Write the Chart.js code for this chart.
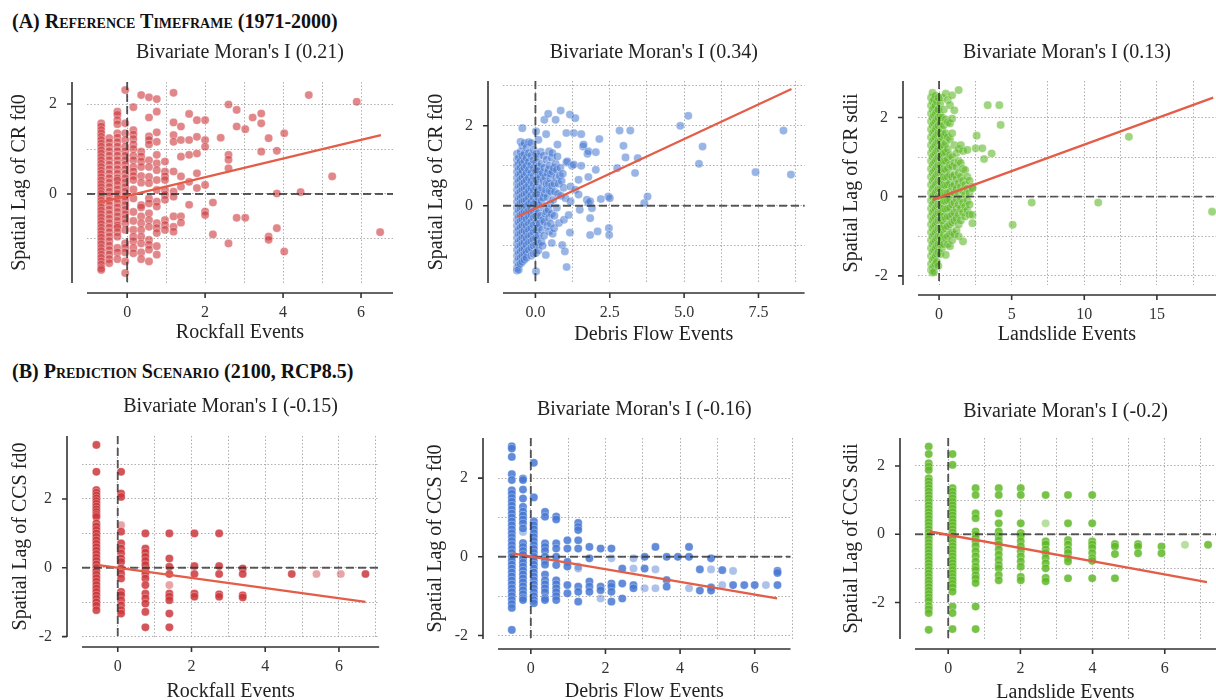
<!DOCTYPE html>
<html>
<head>
<meta charset="utf-8">
<script src="https://cdn.jsdelivr.net/npm/chart.js@4.4.1/dist/chart.umd.min.js"></script>
<style>
  html, body { margin: 0; padding: 0; background: #fff; width: 1216px; height: 700px; overflow: hidden; }
  .hdr { position: absolute; left: 12px; font: bold 20px "Liberation Serif", "Times New Roman", serif;
         font-variant: small-caps; line-height: 22px; color: #111; white-space: nowrap; }
  .panel { position: absolute; }
</style>
</head>
<body>
<div class="hdr" style="top:10px">(A) Reference Timeframe (1971-2000)</div>
<div class="hdr" style="top:360px">(B) Prediction Scenario (2100, RCP8.5)</div>

<script>
/* ============================================================
   Bivariate Moran's I scatter panels (event counts vs spatial lag)
   Values. Points: [x, [y, y, ...]] per column.
   ============================================================ */

/* ── (A) Reference timeframe ── */
var rockfallRef = [
  [-0.665, [1.57,1.5,1.42,1.35,1.27,1.2,1.12,1.05,0.97,0.9,0.82,0.75,0.67,0.6,0.52,0.45,0.37,0.3,0.22,0.15,0.07,0,-0.07,-0.15,-0.22,-0.3,-0.37,-0.45,-0.52,-0.6,-0.67,-0.75,-0.82,-0.9,-0.97,-1.05,-1.12,-1.2,-1.27,-1.35,-1.42,-1.5,-1.57,-1.65,-1.69]],
  [-0.46, [1.24,1.15,1.05,0.95,0.85,0.75,0.65,0.55,0.45,0.35,0.25,0.15,0.05,-0.05,-0.15,-0.25,-0.35,-0.45,-0.55,-0.65,-0.75,-0.85,-0.95,-1.05,-1.15,-1.25,-1.35,-1.45,-1.54]],
  [-0.25, [1.83,1.76,1.64,1.55,1.35,1.25,1.15,1.05,0.95,0.85,0.75,0.65,0.55,0.45,0.35,0.3,0.2,0.1,0,-0.1,-0.2,-0.3,-0.4,-0.5,-0.6,-0.7,-0.75,-0.85,-0.95,-1.2,-1.3,-1.45]],
  [-0.05, [2.31,1.57,1.35,1.2,1.05,0.95,0.85,0.75,0.65,0.55,0.45,0.35,0.25,0.15,0.05,-0.05,-0.15,-0.25,-0.35,-0.45,-0.55,-0.65,-0.8,-1.1,-1.2,-1.3,-1.5,-1.76]],
  [0.16, [1.93,1.42,1.32,1.22,1.1,1.0,0.85,0.75,0.6,0.5,0.4,0.31,0.1,-0.1,-0.4,-0.6,-0.8,-0.95,-1.05,-1.2,-1.32]],
  [0.36, [2.2,0.94,0.83,0.72,0.6,0.4,0.25,-0.25,-0.3,-0.5,-0.65,-0.8,-0.95,-1.1,-1.3,-1.45]],
  [0.56, [2.15,1.7,1.28,1.2,1.1,0.75,0.6,0.38,0.24,-0.1,-0.21,-0.43,-0.58,-0.73,-1.02,-1.13,-1.24,-1.5]],
  [0.76, [2.11,1.83,1.37,1.16,0.87,0.68,0.53,0.31,0.09,-0.17,-0.28,-0.65,-0.76,-0.87,-1.16,-1.35]],
  [0.97, [0.72,0.5,0.39,0.31,0.09,-0.02,-0.13,-0.58,-0.69,-0.8]],
  [1.19, [2.25,1.59,1.31,1.16,0.5,0.05,-0.06,-0.5,-0.73,-0.84]],
  [1.38, [1.5,1.2,0.83,0.39,0.16,-0.5,-0.64]],
  [1.59, [1.78,1.2,0.87,0.27,-0.24]],
  [1.79, [1.64,1.27,0.9,0.46,0.13]],
  [2.0, [1.64,1.2,1.05,0.2,-0.39,-0.47]],
  [2.2, [-0.19,-0.9]],
  [2.4, [1.25]],
  [2.6, [1.99,0.87,0.76,0.57,-1.1]],
  [2.81, [1.87,1.5,-0.53]],
  [3.03, [1.44,-0.53]],
  [3.22, [1.7]],
  [3.44, [1.79,1.57,0.94]],
  [3.63, [1.24,-0.95,-1.02]],
  [3.84, [0.96,0.01,-0.76]],
  [4.03, [1.35,-1.28]],
  [4.45, [0.04]],
  [4.66, [2.2]],
  [5.26, [0.39]],
  [5.89, [2.05]],
  [6.49, [-0.85]]
];
var rockfallRefTrend = [[-0.72, -0.19], [6.51, 1.31]];

var debrisRef = [
  [-0.62, [1.3,1.15,1.0,0.85,0.7,0.55,0.4,0.25,0.1,-0.05,-0.2,-0.35,-0.5,-0.65,-0.8,-0.95,-1.1,-1.25,-1.4,-1.55,-1.62]],
  [-0.56, [1.2,1.05,0.92,0.78,0.62,0.48,0.32,0.18,0.02,-0.12,-0.28,-0.42,-0.58,-0.72,-0.88,-1.02,-1.18,-1.32,-1.48,-1.6]],
  [-0.5, [1.6,1.35,1.12,0.95,0.8,0.66,0.5,0.35,0.2,0.06,-0.08,-0.24,-0.38,-0.54,-0.7,-0.85,-1.0,-1.15,-1.3,-1.45]],
  [-0.44, [1.94,1.5,1.25,1.05,0.88,0.7,0.55,0.4,0.24,0.1,-0.04,-0.2,-0.34,-0.5,-0.66,-0.8,-0.95,-1.1,-1.25,-1.4]],
  [-0.37, [1.57,1.3,1.12,0.95,0.75,0.58,0.42,0.28,0.12,-0.02,-0.16,-0.3,-0.46,-0.62,-0.78,-0.92,-1.08,-1.22,-1.35]],
  [-0.3, [1.45,1.2,1.0,0.82,0.64,0.46,0.3,0.14,-0.02,-0.18,-0.34,-0.5,-0.66,-0.82,-0.98,-1.15,-1.3]],
  [-0.22, [1.59,1.32,1.1,0.9,0.7,0.52,0.36,0.2,0.04,-0.12,-0.28,-0.44,-0.6,-0.76,-0.92,-1.1]],
  [-0.14, [1.57,1.25,1.02,0.82,0.62,0.44,0.26,0.1,-0.06,-0.22,-0.4,-0.56,-0.74,-0.9,-1.05,-1.25]],
  [-0.06, [1.4,1.15,0.94,0.74,0.55,0.38,0.2,0.04,-0.14,-0.3,-0.48,-0.66,-0.84,-1.0,-1.2]],
  [0.02, [1.86,1.3,1.08,0.86,0.66,0.46,0.28,0.1,-0.08,-0.26,-0.44,-0.62,-0.8,-0.98,-1.18,-1.64]],
  [0.1, [1.65,1.22,0.98,0.78,0.58,0.4,0.2,0.02,-0.18,-0.36,-0.55,-0.74,-0.95,-1.12]],
  [0.14, [0.88,-0.45]], [0.15, [0.3]], [0.17, [0.72]], [0.18, [1.35,-0.25]],
  [0.2, [1.05,0.12,-0.9]], [0.22, [0.45,-0.6]], [0.24, [-1.0]], [0.25, [0.82]], [0.26, [0.2,-0.35]],
  [0.27, [0.62]], [0.28, [1.25,-0.05]], [0.29, [-0.75]], [0.3, [2.15,0.95,-0.4]], [0.31, [0.3]],
  [0.33, [0.72]], [0.34, [-0.2]], [0.35, [0.4,-1.23]], [0.36, [1.79]], [0.37, [0.55]],
  [0.38, [1.15,-0.15]], [0.4, [0.82,0.22,-0.5]], [0.43, [2.3]], [0.44, [0.9,-0.1]], [0.45, [0.55]],
  [0.46, [1.36,-0.3,-0.64]], [0.47, [0.38]], [0.48, [1.0]], [0.5, [0.68,0.05]], [0.52, [0.8,-0.45]],
  [0.53, [0.35]], [0.55, [1.2,-0.2,-0.93]], [0.56, [0.5]], [0.57, [1.32]], [0.58, [0.85,-0.7]],
  [0.6, [0.15]], [0.62, [0.95]], [0.63, [-0.56]], [0.64, [0.55,-0.25]], [0.66, [0.35]],
  [0.68, [2.15,1.05]], [0.7, [0.7]], [0.72, [0.9,-0.05]], [0.74, [1.23,1.53]], [0.76, [0.3]],
  [0.78, [0.55]], [0.79, [-0.43]], [0.82, [0.75]], [0.84, [0.95]], [0.85, [2.38]], [0.86, [0.25]],
  [0.88, [0.62]], [0.9, [-0.98]], [0.92, [0.8]], [0.95, [0.45]], [0.96, [-0.35]], [0.99, [-1.14]],
  [1.01, [0.19]], [1.04, [1.82,1.08]], [1.05, [-1.53]], [1.07, [1.11]], [1.12, [-0.23]],
  [1.16, [2.28,-0.67]], [1.18, [0.48,0.11]], [1.23, [1.0]], [1.29, [1.82,1.03]], [1.34, [2.19,0.4]],
  [1.45, [0.65,0.28]], [1.49, [-0.1]], [1.54, [1.79,1.0]], [1.6, [1.48]], [1.62, [1.53]],
  [1.73, [0.15]], [1.75, [1.3]], [1.78, [1.36,0.72,0.07]], [1.84, [-0.31,-0.73,0.11]], [1.9, [-0.06]],
  [2.03, [1.34,0.9]], [2.09, [-0.64]], [2.15, [1.67]], [2.2, [0.17]], [2.45, [0.23]],
  [2.47, [-0.56]], [2.48, [-0.73]], [2.5, [0.19]], [2.75, [0.94]], [2.83, [1.88]], [2.96, [1.5]],
  [3.03, [1.21]], [3.19, [1.88]], [3.35, [0.82]], [3.44, [1.19]], [3.66, [0.07]], [3.77, [0.23]],
  [4.87, [2.0]], [5.14, [2.25]], [5.5, [1.05]], [5.62, [1.48]], [7.4, [0.84]], [8.34, [1.88]], [8.59, [0.78]]
];
var debrisRefTrend = [[-0.62, -0.28], [8.61, 2.92]];

var landslideRef = [
  [-0.55, [2.5,2.3,2.1,1.9,1.7,1.5,1.3,1.1,0.9,0.7,0.5,0.3,0.1,-0.1,-0.3,-0.5,-0.7,-0.9,-1.1,-1.3,-1.5,-1.7,-1.85]],
  [-0.45, [2.62,2.4,2.2,2.0,1.8,1.6,1.4,1.2,1.0,0.8,0.6,0.4,0.2,0.0,-0.2,-0.4,-0.6,-0.8,-1.0,-1.2,-1.4,-1.6,-1.8,-1.92]],
  [-0.35, [2.45,2.25,2.05,1.85,1.65,1.45,1.25,1.05,0.85,0.65,0.45,0.25,0.05,-0.15,-0.35,-0.55,-0.75,-0.95,-1.15,-1.35,-1.55,-1.75,-1.9]],
  [-0.25, [2.55,2.3,2.1,1.9,1.7,1.5,1.3,1.1,0.9,0.7,0.5,0.3,0.1,-0.1,-0.3,-0.5,-0.7,-0.9,-1.1,-1.3,-1.5,-1.7]],
  [-0.15, [2.4,2.15,1.95,1.75,1.55,1.35,1.15,0.95,0.75,0.55,0.35,0.15,-0.05,-0.25,-0.45,-0.65,-0.85,-1.05,-1.25,-1.45,-1.65]],
  [-0.05, [2.5,2.2,2.0,1.8,1.6,1.4,1.2,1.0,0.8,0.6,0.4,0.2,0.0,-0.2,-0.4,-0.6,-0.8,-1.0,-1.2,-1.4,-1.75]],
  [0.08, [2.35,2.05,1.85,1.6,1.4,1.2,1.0,0.8,0.6,0.4,0.2,0.0,-0.2,-0.4,-0.6,-0.8,-1.0,-1.2,-1.45]],
  [0.2, [2.5,2.0,1.7,1.5,1.25,1.05,0.85,0.62,0.42,0.22,0.02,-0.18,-0.38,-0.6,-0.82,-1.05,-1.3]],
  [0.33, [2.2,1.8,1.55,1.3,1.1,0.9,0.7,0.5,0.3,0.1,-0.1,-0.3,-0.5,-0.72,-0.95,-1.2]],
  [0.46, [2.6,1.95,1.6,1.35,1.12,0.9,0.68,0.48,0.28,0.08,-0.12,-0.32,-0.55,-0.8,-1.05,-1.47]],
  [0.6, [2.44,1.88,1.5,1.2,0.95,0.72,0.5,0.3,0.1,-0.1,-0.3,-0.5,-0.75,-1.0,-1.2]],
  [0.75, [2.31,1.85,1.45,1.05,0.8,0.55,0.35,0.12,-0.08,-0.28,-0.5,-0.7,-0.95,-1.25]],
  [0.9, [2.56,1.97,1.6,1.0,0.75,0.5,0.25,0.05,-0.2,-0.45,-0.65,-0.9,-1.1]],
  [1.05, [2.18,1.3,0.85,0.55,0.3,0.1,-0.15,-0.4,-0.6,-0.95]],
  [1.2, [1.1,0.75,0.45,0.2,-0.05,-0.3,-0.55,-0.85]],
  [1.35, [2.69,1.2,0.9,0.6,0.35,0.1,-0.2,-0.45,-0.7,-1.0]],
  [1.5, [1.3,0.85,0.5,0.25,-0.05,-0.3,-0.6]],
  [1.65, [1.15,0.7,0.4,0.15,-0.15,-0.4,-1.13]],
  [1.8, [0.67,0.3,0.05,-0.25,-0.5]],
  [1.95, [1.18,0.5,0.2,-0.1,-0.35]],
  [2.1, [0.4,0.1,-0.2,-0.45]],
  [2.3, [0.25,0.21,-0.46,-0.67]],
  [2.52, [1.22]], [2.59, [1.54]], [2.98, [1.22]], [3.1, [0.95]], [3.35, [2.31]], [3.62, [1.09]],
  [4.15, [2.31]], [4.24, [1.81]], [5.07, [-0.71]], [6.38, [-0.15]], [10.96, [-0.15]], [13.07, [1.51]], [18.8, [-0.38]]
];
var landslideRefTrend = [[-0.44, -0.08], [18.88, 2.5]];

/* ── (B) Prediction scenario ── */
var rockfallFut = [
  [-0.58, [3.57,2.79,2.26,2.18,2.1,2.02,1.94,1.86,1.78,1.7,1.62,1.54,1.48,1.29,1.2,1.1,1.0,0.9,0.8,0.7,0.6,0.5,0.4,0.3,0.2,0.1,0.0,-0.1,-0.2,-0.3,-0.4,-0.5,-0.6,-0.7,-0.8,-0.9,-1.0,-1.1,-1.23]],
  [0.09, [2.79,2.16,2.06,1.05,0.71,0.56,0.42,0.27,0.17,-0.02,-0.17,-0.31,-0.7,-0.79,-0.94,-1.09,-1.23,-1.33]],
  [0.75, [1.0,0.56,0.44,0.32,0.2,0.08,-0.07,-0.18,-0.31,-0.5,-0.75,-0.89,-1.04,-1.28,-1.73]],
  [1.4, [1.0,0.27,0.03,-0.18,-0.75,-0.84,-0.94,-1.33,-1.73]],
  [2.08, [1.0,0.05,-0.18,-0.75,-0.84]],
  [2.75, [1.0,0.05,-0.18,-0.77,-0.84]],
  [3.39, [-0.02,-0.18,-0.8,-0.86]],
  [4.72, [-0.18]],
  [6.72, [-0.18]]
];
var rockfallFutLight = [[0.09, [1.24]], [1.4, [-0.5]], [5.39, [-0.18]], [6.05, [-0.18]]];
var rockfallFutTrend = [[-0.52, 0.08], [6.72, -0.99]];

var debrisFut = [
  [-0.51, [2.81,2.75,2.54,2.1,1.95,1.69,1.6,1.5,1.4,1.3,1.2,1.1,1.0,0.9,0.8,0.7,0.6,0.5,0.4,0.3,0.2,0.1,0.0,-0.1,-0.2,-0.3,-0.4,-0.5,-0.6,-0.7,-0.8,-0.9,-1.0,-1.1,-1.2,-1.3,-1.86]],
  [-0.21, [1.99,1.95,1.71,1.48,1.27,1.15,1.05,0.95,0.85,0.72,0.35,0.25,0.15,0.05,-0.05,-0.15,-0.25,-0.35,-0.45,-0.55,-0.65,-0.75,-0.85,-0.95,-1.05,-1.1]],
  [0.08, [2.39,1.51,0.9,0.8,0.7,0.6,0.5,0.4,0.3,0.2,0.1,0.0,-0.1,-0.2,-0.3,-0.4,-0.5,-0.6,-0.7,-0.8,-0.9,-1.0,-1.1,-1.18]],
  [0.38, [1.14,1.02,0.34,0.25,0.15,0.0,-0.1,-0.2,-0.45,-0.6,-0.7,-0.8,-0.9,-1.05,-1.1]],
  [0.68, [1.02,0.95,0.34,0.21,0.0,-0.21,-0.6,-0.7,-0.8,-0.9,-1.0,-1.1]],
  [0.98, [0.42,0.21,-0.13,-0.25,-0.72,-0.93]],
  [1.27, [0.86,0.76,0.68,0.42,0.21,-0.76,-0.89,-1.14]],
  [1.57, [0.25,-0.04,-0.63,-0.76,-0.89]],
  [1.87, [0.21,-0.76,-0.85]],
  [2.16, [0.21,-0.68,-0.76,-0.89,-1.14]],
  [2.45, [-0.3,-0.68,-1.06]],
  [2.75, [-0.72,-0.8]],
  [3.05, [0.0,-0.3]],
  [3.34, [0.25]],
  [3.64, [0.0,-0.59,-0.76]],
  [3.94, [0.0]],
  [4.24, [0.25,0.0]],
  [4.53, [-0.32,-0.86]],
  [4.83, [-0.04,-0.78,-0.86]],
  [5.13, [-0.34]],
  [5.42, [-0.72]],
  [5.72, [-0.72]],
  [6.0, [-0.72]],
  [6.61, [-0.36,-0.41,-0.72]]
];
var debrisFutLight = [[-0.21, [0.63]], [1.27, [-0.25,-0.3]], [1.87, [-1.06]], [2.16, [-0.04]], [2.75, [-0.04,-0.3]],
  [3.05, [-0.8]], [3.34, [-0.32,-0.8]], [4.24, [-0.8]], [4.83, [-0.32]], [5.13, [-0.72]], [5.42, [-0.36]], [6.3, [-0.72]]];
var debrisFutTrend = [[-0.49, 0.085], [6.6, -1.06]];

var landslideFut = [
  [-0.54, [2.57,2.35,2.08,1.98,1.88,1.64,1.55,1.45,1.35,1.25,1.15,1.05,0.95,0.85,0.75,0.65,0.55,0.45,0.35,0.25,0.15,0.05,-0.05,-0.15,-0.25,-0.35,-0.45,-0.55,-0.65,-0.75,-0.85,-0.95,-1.05,-1.15,-1.25,-1.35,-1.45,-1.55,-1.65,-1.75,-1.85,-1.95,-2.1,-2.2,-2.31,-2.8]],
  [0.12, [2.35,2.03,1.35,1.25,1.15,1.05,0.95,0.85,0.75,0.65,0.55,0.45,0.35,0.25,0.15,0.05,-0.05,-0.15,-0.25,-0.35,-0.45,-0.55,-0.65,-0.75,-0.85,-0.95,-1.05,-1.15,-1.25,-1.35,-1.45,-1.55,-1.68,-2.12,-2.31,-2.78]],
  [0.76, [1.35,1.15,0.61,0.47,0.08,-0.02,-0.12,-0.22,-0.35,-0.5,-0.65,-0.8,-0.95,-1.05,-1.2,-1.3,-1.43,-2.12,-2.78]],
  [1.4, [1.35,1.15,0.61,0.32,0.08,-0.05,-0.18,-0.3,-0.45,-0.6,-0.75,-0.9,-1.0,-1.2,-1.35]],
  [2.01, [1.35,1.15,0.32,0.03,-0.05,-0.2,-0.35,-0.5,-0.65,-0.8,-0.95,-1.25,-1.35]],
  [2.7, [1.15,-0.21,-0.3,-0.45,-0.55,-0.7,-0.85,-1.0,-1.28,-1.38]],
  [3.32, [1.15,0.32,-0.17,-0.3,-0.45,-0.55,-0.7,-0.8,-1.29]],
  [3.99, [1.15,0.32,-0.21,-0.3,-0.4,-0.55,-0.7,-0.78,-1.29]],
  [4.62, [-0.29,-0.36,-0.58,-1.29]],
  [5.26, [-0.29,-0.36,-0.56]],
  [5.91, [-0.36,-0.56]],
  [7.2, [-0.31]]
];
var landslideFutLight = [[2.7, [0.32]], [6.56, [-0.31]]];
var landslideFutTrend = [[-0.51, 0.08], [7.17, -1.4]];

/* ── grid ticks / labelled ticks ── */
var xTicksRock = [0,1,2,3,4,5,6],       xLabelsRock = [0,2,4,6];
var xTicksDebrisRef = [0,1.25,2.5,3.75,5,6.25,7.5,8.75], xLabelsDebrisRef = [0,2.5,5,7.5];
var xTicksSlideRef = [0,2.5,5,7.5,10,12.5,15,17.5],      xLabelsSlideRef = [0,5,10,15];
var xTicksFut = [0,1,2,3,4,5,6,7],      xLabelsFut = [0,2,4,6];
var yTicksRockRef = [-1,0,1,2],         yLabelsRockRef = [0,2];
var yTicksDebrisRef = [-1,0,1,2,3],     yLabelsDebrisRef = [0,2];
var yTicksSlideRef = [-2,-1,0,1,2],     yLabelsSlideRef = [-2,0,2];
var yTicksRockFut = [-2,-1,0,1,2,3],    yLabelsFut = [-2,0,2];
var yTicksDebrisFut = [-2,-1,0,1,2];
var yTicksSlideFut = [-2,-1,0,1,2];

var moranI = ['0.21', '0.34', '0.13', '-0.15', '-0.16', '-0.2'];

/* ── styling ── */
var SERIF = '"Liberation Serif", "Times New Roman", serif';
var COL = {
  red:   [205, 55, 60],
  blue:  [70, 120, 210],
  green: [95, 185, 40],
  trend: '#e35d48',
  zero:  'rgba(50,50,50,0.8)',
  grid:  '#9a9a9a',
  spine: '#333333',
  text:  '#222222',
};
function rgba(c, a) { return 'rgba(' + c.join(',') + ',' + a + ')'; }

function flat(cols) {
  var out = [];
  cols.forEach(function (c) { c[1].forEach(function (y) { out.push({ x: c[0], y: y }); }); });
  return out;
}
function pts(list) { return list.map(function (p) { return { x: p[0], y: p[1] }; }); }

/* area = chart area [left, top, right, bottom] in page px */
var PANELS = [
  { area: [87, 82, 393, 283],  x: [-1.03, 6.82], y: [-1.98, 2.49], xt: xTicksRock, xl: xLabelsRock, yt: yTicksRockRef, yl: yLabelsRockRef,
    xTitle: 'Rockfall Events', yTitle: 'Spatial Lag of CR fd0', data: rockfallRef, light: [], trend: rockfallRefTrend,
    color: COL.red, alpha: 0.6, gT: 29, gY: 67, gX: 50, dec: 0 },
  { area: [503, 81, 810, 283], x: [-1.09, 9.05], y: [-1.93, 3.12], xt: xTicksDebrisRef, xl: xLabelsDebrisRef, yt: yTicksDebrisRef, yl: yLabelsDebrisRef,
    xTitle: 'Debris Flow Events', yTitle: 'Spatial Lag of CR fd0', data: debrisRef, light: [], trend: debrisRefTrend,
    color: COL.blue, alpha: 0.55, gT: 28, gY: 66, gX: 52, dec: 1 },
  { area: [918, 81, 1216, 285], x: [-1.45, 19.07], y: [-2.23, 2.92], xt: xTicksSlideRef, xl: xLabelsSlideRef, yt: yTicksSlideRef, yl: yLabelsSlideRef,
    xTitle: 'Landslide Events', yTitle: 'Spatial Lag of CR sdii', data: landslideRef, light: [], trend: landslideRefTrend,
    color: COL.green, alpha: 0.6, gT: 28, gY: 66, gX: 50, dec: 0 },
  { area: [82, 436, 390, 637], x: [-0.97, 7.09], y: [-2.01, 3.83], xt: xTicksFut, xl: xLabelsFut, yt: yTicksRockFut, yl: yLabelsFut,
    xTitle: 'Rockfall Events', yTitle: 'Spatial Lag of CCS fd0', data: rockfallFut, light: rockfallFutLight, trend: rockfallFutTrend,
    color: COL.red, alpha: 0.85, gT: 29, gY: 61, gX: 55, dec: 0 },
  { area: [498, 438, 806, 639], x: [-0.88, 6.96], y: [-2.09, 3.02], xt: xTicksFut, xl: xLabelsFut, yt: yTicksDebrisFut, yl: yLabelsFut,
    xTitle: 'Debris Flow Events', yTitle: 'Spatial Lag of CCS fd0', data: debrisFut, light: debrisFutLight, trend: debrisFutTrend,
    color: COL.blue, alpha: 0.85, gT: 28, gY: 62, gX: 53, dec: 0 },
  { area: [915, 438, 1216, 639], x: [-0.92, 7.42], y: [-3.07, 2.82], xt: xTicksFut, xl: xLabelsFut, yt: yTicksSlideFut, yl: yLabelsFut,
    xTitle: 'Landslide Events', yTitle: 'Spatial Lag of CCS sdii', data: landslideFut, light: landslideFutLight, trend: landslideFutTrend,
    color: COL.green, alpha: 0.85, gT: 26, gY: 63, gX: 54, dec: 0 },
];

var PAD_L = 80, PAD_T = 50, PAD_R = 6, PAD_B = 72;
var TITLE_SIZE = 20, TICK_SIZE = 16;
var HALF = TITLE_SIZE * 1.2 / 2;

/* zero reference lines (after the main scatter) + detached spines */
function makeDecor(p) {
  return {
    id: 'decor',
    afterDatasetDraw: function (chart, args) {
      if (args.index !== 1) return;
      var a = chart.chartArea, ctx = chart.ctx;
      var x0 = chart.scales.x.getPixelForValue(0), y0 = chart.scales.y.getPixelForValue(0);
      ctx.save();
      ctx.strokeStyle = COL.zero; ctx.lineWidth = 1.9; ctx.setLineDash([8, 4]);
      ctx.beginPath();
      ctx.moveTo(a.left, y0); ctx.lineTo(a.right, y0);
      ctx.moveTo(x0, a.top); ctx.lineTo(x0, a.bottom);
      ctx.stroke();
      ctx.restore();
    },
    afterDraw: function (chart) {
      var a = chart.chartArea, ctx = chart.ctx;
      var lx = a.left - 15, by = a.bottom + 10;
      ctx.save();
      ctx.strokeStyle = COL.spine; ctx.lineWidth = 1.6;
      ctx.beginPath();
      ctx.moveTo(lx, a.top); ctx.lineTo(lx, a.bottom);
      ctx.moveTo(a.left, by); ctx.lineTo(a.right, by);
      p.yl.forEach(function (v) { var py = chart.scales.y.getPixelForValue(v); ctx.moveTo(lx - 5, py); ctx.lineTo(lx, py); });
      p.xl.forEach(function (v) { var px = chart.scales.x.getPixelForValue(v); ctx.moveTo(px, by); ctx.lineTo(px, by + 5); });
      ctx.stroke();
      ctx.restore();
    }
  };
}

function buildPanel(p, i) {
  var L = p.area[0] - PAD_L, T = p.area[1] - PAD_T, R = p.area[2] + PAD_R, B = p.area[3] + PAD_B;
  var box = document.createElement('div');
  box.className = 'panel';
  box.style.cssText = 'left:' + L + 'px;top:' + T + 'px;width:' + (R - L) + 'px;height:' + (B - T) + 'px';
  var cv = document.createElement('canvas');
  box.appendChild(cv);
  document.body.appendChild(box);

  var titleTop = PAD_T - p.gT - HALF;
  var tickFont = { family: SERIF, size: TICK_SIZE };
  var axisFont = { family: SERIF, size: TITLE_SIZE };

  new Chart(cv, {
    type: 'scatter',
    data: {
      datasets: [
        { type: 'line', data: pts(p.trend), borderColor: COL.trend, borderWidth: 2.3, pointRadius: 0, fill: false, order: 0 },
        { data: flat(p.data), backgroundColor: rgba(p.color, p.alpha), borderColor: 'rgba(255,255,255,0.5)',
          borderWidth: 0.6, pointRadius: 4.1, order: 1 },
        { data: flat(p.light), backgroundColor: rgba(p.color, 0.45), borderColor: 'rgba(255,255,255,0.5)',
          borderWidth: 0.6, pointRadius: 4.1, order: 2 },
      ],
    },
    options: {
      responsive: true,
      maintainAspectRatio: false,
      animation: false,
      devicePixelRatio: 1,
      events: [],
      layout: { padding: { left: 0, top: 0, right: PAD_R, bottom: 0 } },
      scales: {
        x: {
          type: 'linear', min: p.x[0], max: p.x[1],
          afterBuildTicks: function (s) { s.ticks = p.xt.map(function (v) { return { value: v }; }); },
          afterFit: function (s) { s.height = PAD_B; },
          grid: { color: COL.grid, lineWidth: 0.8, drawTicks: false },
          border: { display: false, dash: [1.5, 2] },
          ticks: {
            autoSkip: false, maxRotation: 0, padding: 20, color: '#333', font: tickFont,
            callback: function (v) { return p.xl.indexOf(v) >= 0 ? v.toFixed(p.dec) : ''; },
          },
          title: { display: true, text: p.xTitle, color: COL.text, font: axisFont,
                   padding: { top: 0, bottom: PAD_B - HALF - p.gX } },
        },
        y: {
          type: 'linear', min: p.y[0], max: p.y[1],
          afterBuildTicks: function (s) { s.ticks = p.yt.map(function (v) { return { value: v }; }); },
          afterFit: function (s) { s.width = PAD_L; },
          grid: { color: COL.grid, lineWidth: 0.8, drawTicks: false },
          border: { display: false, dash: [1.5, 2] },
          ticks: {
            autoSkip: false, padding: 30, color: '#333', font: tickFont,
            callback: function (v) { return p.yl.indexOf(v) >= 0 ? String(v) : ''; },
          },
          title: { display: true, text: p.yTitle, color: COL.text, font: axisFont,
                   padding: { top: PAD_L - HALF - p.gY, bottom: 0 } },
        },
      },
      plugins: {
        legend: { display: false },
        tooltip: { enabled: false },
        title: {
          display: true, fullSize: false,
          text: "Bivariate Moran's I (" + moranI[i] + ')',
          color: COL.text, font: { family: SERIF, size: TITLE_SIZE, weight: 'normal' },
          padding: { top: titleTop, bottom: PAD_T - 2 * HALF - titleTop },
        },
      },
    },
    plugins: [makeDecor(p)],
  });
}

PANELS.forEach(buildPanel);
</script>
</body>
</html>
